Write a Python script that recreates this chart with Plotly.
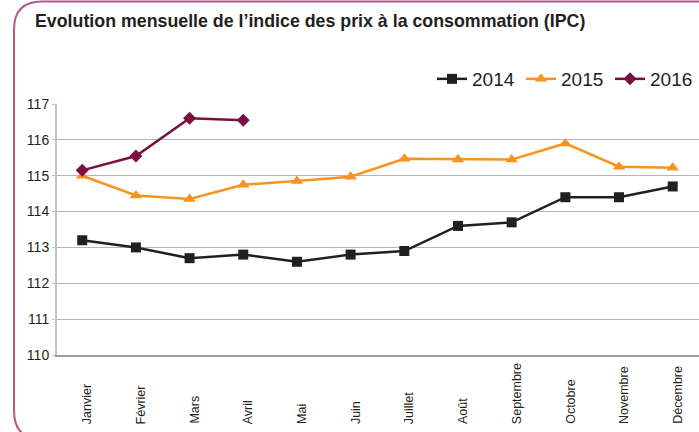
import plotly.graph_objects as go

months = ["Janvier", "Février", "Mars", "Avril", "Mai", "Juin", "Juillet",
          "Août", "Septembre", "Octobre", "Novembre", "Décembre"]
ipc_2014 = [113.2, 113.0, 112.7, 112.8, 112.6, 112.8, 112.9, 113.6, 113.7, 114.4, 114.4, 114.7]
ipc_2015 = [115.0, 114.45, 114.35, 114.75, 114.85, 114.97, 115.47, 115.45, 115.45, 115.9, 115.25, 115.22]
ipc_2016 = [115.15, 115.55, 116.6, 116.55]
y_ticks = [110, 111, 112, 113, 114, 115, 116, 117]

W, H = 699, 432
ML, MR, MT, MB = 57, 0, 104, 77
PW, PH = W - ML - MR, H - MT - MB

def px(x):
    return (x - ML) / PW

def py(y):
    return (H - MB - y) / PH

fig = go.Figure()
fig.add_trace(go.Scatter(x=months, y=ipc_2014, name="2014", mode="lines+markers",
                         line=dict(color="#231f20", width=2.5),
                         marker=dict(symbol="square", size=10, color="#231f20")))
fig.add_trace(go.Scatter(x=months, y=ipc_2015, name="2015", mode="lines+markers",
                         line=dict(color="#f7941d", width=2.5),
                         marker=dict(symbol="triangle-up", size=11, color="#f7941d")))
fig.add_trace(go.Scatter(x=months[:len(ipc_2016)], y=ipc_2016, name="2016", mode="lines+markers",
                         line=dict(color="#7a0f40", width=2.5),
                         marker=dict(symbol="diamond", size=10, color="#7a0f40")))

# rotated month labels, bottom-aligned
for m in months:
    fig.add_annotation(x=m, xref="x", y=py(426), yref="paper", text=m, showarrow=False,
                       textangle=-90, xanchor="center", yanchor="bottom", xshift=5,
                       font=dict(family="Liberation Sans, Arial", size=12.5, color="#231f20"))

# rounded border (left portion visible)
r = 28
x0, y0 = 14, 1.5
ybot = 410
path = (f"M {px(W+5)},{py(y0)} L {px(x0+r)},{py(y0)} "
        f"Q {px(x0)},{py(y0)} {px(x0)},{py(y0+r)} "
        f"L {px(x0)},{py(ybot)} "
        f"Q {px(x0)},{py(ybot+22)} {px(x0+14)},{py(ybot+26)}")
fig.add_shape(type="path", path=path, xref="paper", yref="paper",
              line=dict(color="#b45a8a", width=2))

fig.update_layout(
    width=W, height=H,
    margin=dict(l=ML, r=MR, t=MT, b=MB, autoexpand=False),
    paper_bgcolor="white", plot_bgcolor="white",
    title=dict(text="<b>Evolution mensuelle de l’indice des prix à la consommation (IPC)</b>",
               x=35 / W, xanchor="left", xref="container",
               y=1 - 21 / H, yanchor="middle", yref="container",
               font=dict(family="Liberation Sans Narrow, Arial Narrow, Liberation Sans", size=17.8, color="#231f20")),
    legend=dict(orientation="h", x=px(432), xanchor="left", y=py(79), yanchor="middle",
                font=dict(family="Liberation Sans, Arial", size=19, color="#231f20"),
                bgcolor="rgba(0,0,0,0)", itemwidth=30, traceorder="normal",
                entrywidth=44, entrywidthmode="pixels"),
    showlegend=True,
)
fig.update_xaxes(type="category", range=[-0.47, 11.49], showticklabels=False,
                 showgrid=False, showline=True, linecolor="#9a9a9a", linewidth=1.5,
                 ticks="", zeroline=False)
fig.update_yaxes(range=[110, 117], tickvals=y_ticks, showgrid=True, gridcolor="#b5b5b5",
                 gridwidth=1, showline=True, linecolor="#c4c4c4", linewidth=2,
                 ticks="outside", ticklen=3, tickcolor="#c4c4c4",
                 tickfont=dict(family="Liberation Sans, Arial", size=14, color="#231f20"),
                 zeroline=False)

fig.write_html("out.html", config={"displayModeBar": False},
               post_script="document.body.style.margin='0';document.body.style.overflow='hidden';")
